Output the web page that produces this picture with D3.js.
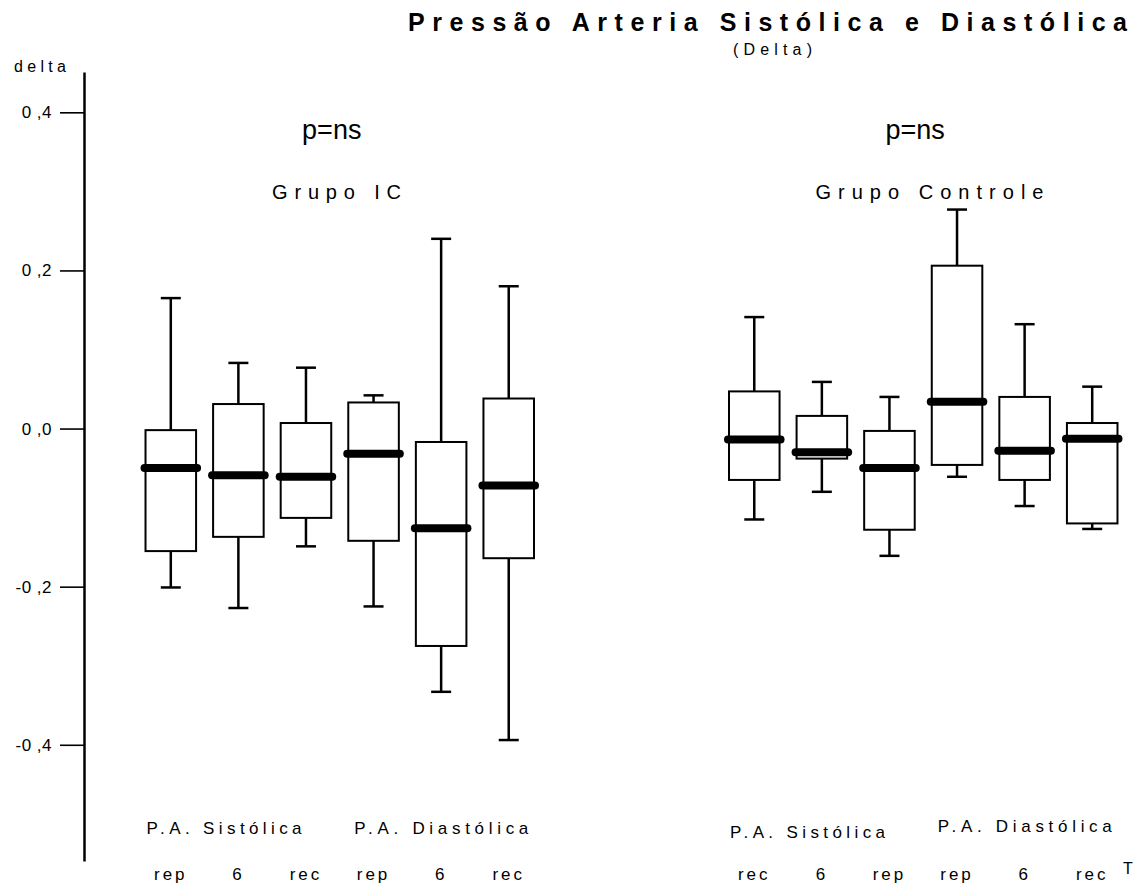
<!DOCTYPE html>
<html>
<head>
<meta charset="utf-8">
<script src="https://cdn.jsdelivr.net/npm/d3@7"></script>
<style>
  body { margin: 0; background: #fff; }
  text { font-family: "Liberation Sans", Arial, sans-serif; fill: #000; }
</style>
</head>
<body>
<div id="chart"></div>
<script>
// groups and box categories
const groups = ["Grupo IC", "Grupo Controle"];
const slots = [0, 1, 2, 3, 4, 5];
const icTickLabels = ["rep", "6", "rec", "rep", "6", "rec"];
const ctrlTickLabels = ["rec", "6", "rep", "rep", "6", "rec"];
const measureLabels = ["P.A. Sistólica", "P.A. Diastólica"];
const yTickValues = [-0.4, -0.2, 0.0, 0.2, 0.4];

// Grupo IC (delta values)
const icLow  = [-0.201, -0.227, -0.149, -0.225, -0.333, -0.394];
const icQ1   = [-0.155, -0.137, -0.113, -0.142, -0.275, -0.164];
const icMed  = [-0.050, -0.059, -0.061, -0.032, -0.126, -0.072];
const icQ3   = [-0.002,  0.031,  0.007,  0.033, -0.017,  0.038];
const icHigh = [ 0.165,  0.083,  0.077,  0.042,  0.240,  0.180];

// Grupo Controle
const ctrlLow  = [-0.115, -0.080, -0.161, -0.061, -0.098, -0.127];
const ctrlQ1   = [-0.065, -0.038, -0.128, -0.046, -0.065, -0.120];
const ctrlMed  = [-0.014, -0.030, -0.050,  0.034, -0.028, -0.013];
const ctrlQ3   = [ 0.047,  0.016, -0.003,  0.206,  0.040,  0.007];
const ctrlHigh = [ 0.141,  0.059,  0.040,  0.277,  0.132,  0.053];

const width = 1145, height = 891;

const svg = d3.select("#chart").append("svg")
    .attr("width", width)
    .attr("height", height);

// scales
const yScale = d3.scaleLinear().domain([-0.547, 0.451]).range([861, 72]);
const groupScale = d3.scaleBand().domain(groups).range([137, 1126]).paddingInner(0.305);
const slotScale = d3.scaleBand().domain(slots).range([0, groupScale.bandwidth()])
    .paddingInner(0.252).paddingOuter(0.126);

// build one record per box
const boxes = [];
groups.forEach((g, gi) => {
    const src = gi === 0
        ? [icLow, icQ1, icMed, icQ3, icHigh, icTickLabels]
        : [ctrlLow, ctrlQ1, ctrlMed, ctrlQ3, ctrlHigh, ctrlTickLabels];
    slots.forEach(i => {
        boxes.push({group: g, slot: i, low: src[0][i], q1: src[1][i], med: src[2][i],
            q3: src[3][i], high: src[4][i], label: src[5][i]});
    });
});

const xLeft = d => groupScale(d.group) + slotScale(d.slot);
const xMid = d => xLeft(d) + slotScale.bandwidth() / 2;

// y axis
const yAxis = d3.axisLeft(yScale)
    .tickValues(yTickValues)
    .tickSize(24)
    .tickSizeOuter(0)
    .tickPadding(8)
    .tickFormat(v => d3.format(".1f")(v).replace(".", " ,").replace("−", "-"));

const yAxisG = svg.append("g")
    .attr("class", "yAxisG")
    .attr("transform", "translate(84,0)")
    .call(yAxis);
yAxisG.select(".domain").attr("stroke-width", 2.5);
yAxisG.selectAll(".tick line").attr("stroke-width", 1.6);
yAxisG.selectAll(".tick text")
    .attr("font-size", 17)
    .attr("font-family", "\"Liberation Sans\", Arial, sans-serif")
    .attr("letter-spacing", 0.5);

svg.append("text")
    .attr("x", 14).attr("y", 72)
    .attr("font-size", 16)
    .attr("textLength", 52)
    .attr("lengthAdjust", "spacing")
    .text("delta");

// title
svg.append("text")
    .attr("x", 408).attr("y", 31)
    .attr("font-size", 25)
    .attr("font-weight", "bold")
    .attr("textLength", 719)
    .attr("lengthAdjust", "spacing")
    .text("Pressão Arteria Sistólica e Diastólica");

svg.append("text")
    .attr("x", 733).attr("y", 55)
    .attr("font-size", 16)
    .attr("textLength", 79)
    .attr("lengthAdjust", "spacing")
    .text("(Delta)");

// group labels
const groupG = svg.selectAll(".groupG")
    .data(groups)
    .join("g")
    .attr("class", "groupG")
    .attr("transform", g => "translate(" + groupScale(g) + ",0)");

groupG.append("text")
    .attr("x", groupScale.bandwidth() / 2 - 8)
    .attr("y", 139)
    .attr("text-anchor", "middle")
    .attr("font-size", 27)
    .text("p=ns");

groupG.append("text")
    .attr("x", (g, i) => i === 0 ? 135 : 95)
    .attr("y", 199)
    .attr("font-size", 20)
    .attr("textLength", (g, i) => i === 0 ? 129 : 228)
    .attr("lengthAdjust", "spacing")
    .text(g => g);

// measure labels under each set of three boxes
groupG.each(function(g, gi) {
    d3.select(this).selectAll(".measureLabel")
        .data(measureLabels)
        .join("text")
        .attr("class", "measureLabel")
        .attr("x", (m, j) => slotScale(j * 3) + (j === 0 ? 1 : 6))
        .attr("y", (m, j) => 834 + (gi === 1 ? (j === 0 ? 4 : -2) : 0))
        .attr("font-size", 17)
        .attr("textLength", (m, j) => j === 0 ? 155 : 174)
        .attr("lengthAdjust", "spacing")
        .text(m => m);
});

// whiskers
const boxG = svg.selectAll(".boxG")
    .data(boxes)
    .join("g")
    .attr("class", "boxG");

boxG.append("line")
    .attr("x1", xMid).attr("x2", xMid)
    .attr("y1", d => yScale(d.high)).attr("y2", d => yScale(d.low))
    .attr("stroke", "#000").attr("stroke-width", 2.5);

boxG.selectAll(".cap")
    .data(d => [d.low, d.high].map(v => ({x: xMid(d), v: v})))
    .join("line")
    .attr("class", "cap")
    .attr("x1", c => c.x - 10).attr("x2", c => c.x + 10)
    .attr("y1", c => yScale(c.v)).attr("y2", c => yScale(c.v))
    .attr("stroke", "#000").attr("stroke-width", 2.5);

boxG.append("rect")
    .attr("x", xLeft)
    .attr("y", d => yScale(d.q3))
    .attr("width", slotScale.bandwidth())
    .attr("height", d => yScale(d.q1) - yScale(d.q3))
    .attr("fill", "#fff")
    .attr("stroke", "#000")
    .attr("stroke-width", 2);

boxG.append("line")
    .attr("x1", d => xLeft(d) - 1)
    .attr("x2", d => xLeft(d) + slotScale.bandwidth() + 1)
    .attr("y1", d => yScale(d.med)).attr("y2", d => yScale(d.med))
    .attr("stroke", "#000").attr("stroke-width", 8)
    .attr("stroke-linecap", "round");

// box category labels
boxG.append("text")
    .attr("x", xMid)
    .attr("y", 880)
    .attr("text-anchor", "middle")
    .attr("font-size", 17)
    .attr("letter-spacing", 3)
    .text(d => d.label);

svg.append("text")
    .attr("x", 1123).attr("y", 874)
    .attr("font-size", 16)
    .text("T");
</script>
</body>
</html>
